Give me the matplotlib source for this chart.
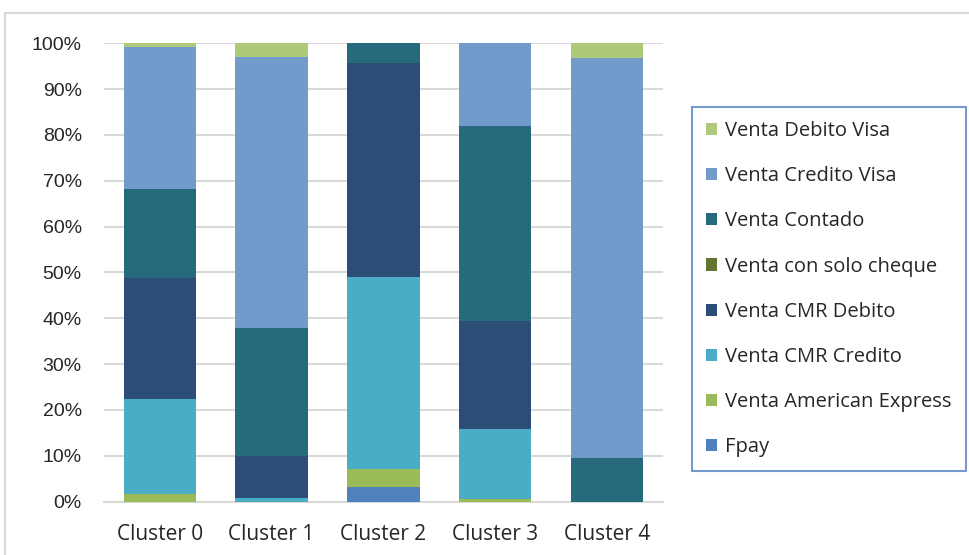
import numpy as np
import matplotlib.pyplot as plt
from matplotlib.patches import Rectangle

clusters = ['Cluster 0', 'Cluster 1', 'Cluster 2', 'Cluster 3', 'Cluster 4']
series = ['Fpay', 'Venta American Express', 'Venta CMR Credito', 'Venta CMR Debito',
          'Venta con solo cheque', 'Venta Contado', 'Venta Credito Visa', 'Venta Debito Visa']
fpay = [0.0, 0.0, 3.2, 0.0, 0.0]
amex = [1.6, 0.0, 3.9, 0.5, 0.0]
cmr_credito = [20.7, 0.7, 41.8, 15.3, 0.0]
cmr_debito = [26.4, 9.3, 46.9, 23.7, 0.0]
cheque = [0.0, 0.0, 0.0, 0.0, 0.0]
contado = [19.6, 27.8, 4.2, 42.4, 9.4]
credito_visa = [30.9, 59.3, 0.0, 18.1, 87.4]
debito_visa = [0.8, 2.9, 0.0, 0.0, 3.2]
colors = ['#4F81BD', '#9BBB59', '#4BACC6', '#2C4D75', '#5F7530', '#276A7C', '#729ACA', '#AFC97A']

data = np.array([fpay, amex, cmr_credito, cmr_debito, cheque, contado, credito_visa, debito_visa])
data = data / data.sum(axis=0)

fig = plt.figure(figsize=(9.7, 5.55), dpi=100)
ax = fig.add_axes([104/970, 1-501.5/555, 558.7/970, 458.2/555])
x = np.arange(len(clusters))
bottom = np.zeros(len(clusters))
handles = []
for name, vals, c in zip(series, data, colors):
    b = ax.bar(x, vals, 0.65, bottom=bottom, color=c, label=name, zorder=3)
    handles.append(b)
    bottom += vals

ax.set_xlim(-0.5, 4.5)
ax.set_ylim(0, 1)
ax.set_yticks(np.arange(0, 1.01, 0.1))
ax.set_yticklabels(['%d%%' % v for v in range(0, 101, 10)], fontsize=14,
                   family='Liberation Sans', color='#262626')
ax.set_xticks(x)
ax.set_xticklabels(clusters, fontsize=15, family='Open Sans', color='#262626')
ax.yaxis.grid(True, color='#D9D9D9', linewidth=1.5, zorder=0)
for s in ['top', 'right', 'left']:
    ax.spines[s].set_visible(False)
ax.spines['bottom'].set_color('#D9D9D9')
ax.spines['bottom'].set_linewidth(1.5)
ax.tick_params(axis='y', length=0, pad=16)
ax.tick_params(axis='x', length=0, pad=16)

leg = fig.legend(handles[::-1], series[::-1], loc='upper left',
                 bbox_to_anchor=(692/970, 1-107/555),
                 prop={'family': 'Open Sans', 'size': 14.5},
                 frameon=True, fancybox=False, handlelength=0.55, handleheight=0.55,
                 handletextpad=0.4, labelspacing=1.25, borderpad=0.7, borderaxespad=0)
leg.get_frame().set_edgecolor('#4F81BD')
leg.get_frame().set_linewidth(1.5)
for t in leg.get_texts():
    t.set_color('#262626')

fig.patches.append(Rectangle((5/970, -0.1), 1.2, 1-13/555+0.1, transform=fig.transFigure,
                             fill=False, edgecolor='#D9D9D9', linewidth=1.5))

fig.savefig('out.png', dpi=100)
